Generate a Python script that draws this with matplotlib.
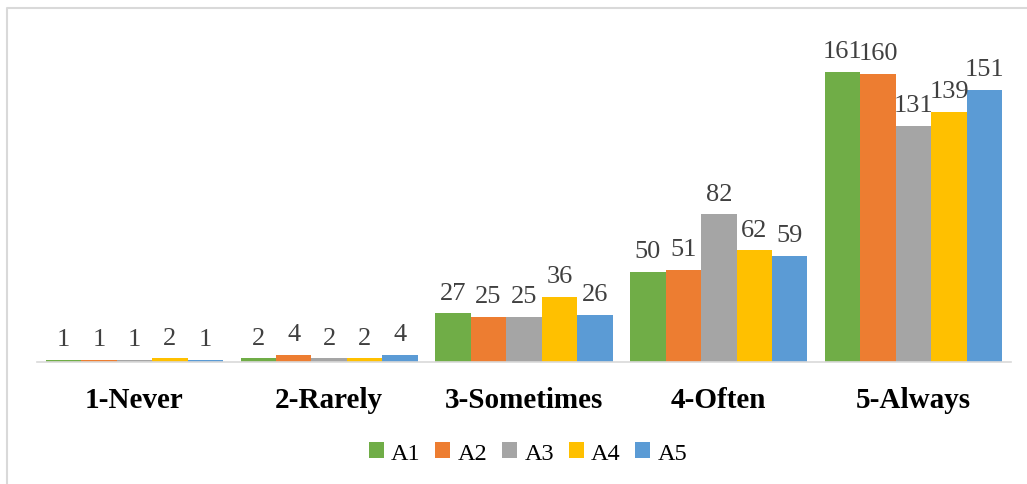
# grouped bar chart: responses per item A1..A5
import numpy as np
import matplotlib.pyplot as plt
from matplotlib.lines import Line2D

CATEGORIES = ['1-Never', '2-Rarely', '3-Sometimes', '4-Often', '5-Always']
SERIES = ['A1', 'A2', 'A3', 'A4', 'A5']
A1 = [1, 2, 27, 50, 161]
A2 = [1, 4, 25, 51, 160]
A3 = [1, 2, 25, 82, 131]
A4 = [2, 2, 36, 62, 139]
A5 = [1, 4, 26, 59, 151]
COLORS = ['#70AD47', '#ED7D31', '#A5A5A5', '#FFC000', '#5B9BD5']

WRITE_FILENAME = 'out.png'
FONT = 'Liberation Serif'


def main():
	values = [A1, A2, A3, A4, A5]
	fig = plt.figure(figsize=(10.27, 4.85), dpi=100)
	ax = fig.add_axes([37 / 1027, 122 / 485, 974 / 1027, 324 / 485])

	x = np.arange(len(CATEGORIES))
	w = 0.182
	for i, (name, vals) in enumerate(zip(SERIES, values)):
		pos = x + (i - 2) * w
		bars = ax.bar(pos, vals, width=w, color=COLORS[i], label=name)
		for b, v in zip(bars, vals):
			ax.annotate(str(v), (b.get_x() + b.get_width() / 2, v),
				xytext=(0, 7), textcoords='offset points',
				ha='center', va='bottom', fontsize=19,
				family=FONT, color='#404040')

	ax.set_xlim(-0.5, len(CATEGORIES) - 0.5)
	ax.set_ylim(0, 180)
	ax.set_yticks([])
	ax.set_xticks(x)
	ax.set_xticklabels(CATEGORIES, fontsize=21, fontweight='bold', family=FONT)
	ax.tick_params(axis='x', length=0, pad=17)
	for s in ['top', 'right', 'left']:
		ax.spines[s].set_visible(False)
	ax.spines['bottom'].set_color('#D9D9D9')
	ax.spines['bottom'].set_linewidth(1.2)

	fig.legend(loc='center', bbox_to_anchor=(528 / 1027, 1 - 454 / 485),
		ncol=5, frameon=False, handlelength=0.62, handleheight=0.62,
		handletextpad=0.3, columnspacing=0.6,
		prop={'family': FONT, 'size': 17.5})

	# outer chart frame (left and top edges only visible)
	fig.add_artist(Line2D([7 / 1027, 7 / 1027, 1.0], [0.0, 1 - 9 / 485, 1 - 9 / 485],
		transform=fig.transFigure, color='#D9D9D9', linewidth=1.5))

	fig.savefig(WRITE_FILENAME, dpi=100)
	plt.close(fig)


if __name__ == '__main__':
	main()
